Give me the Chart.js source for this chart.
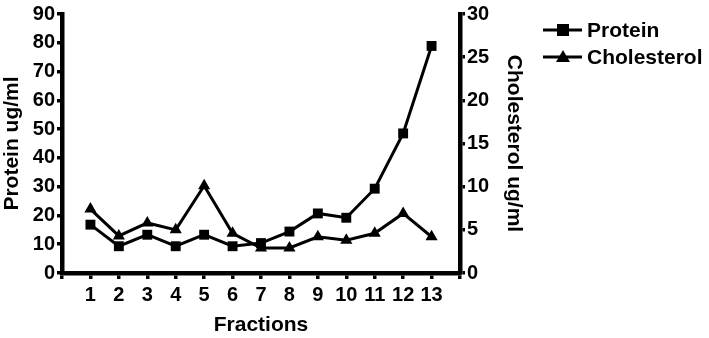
<!DOCTYPE html>
<html>
<head>
<meta charset="utf-8">
<script src="https://cdn.jsdelivr.net/npm/chart.js@4"></script>
<style>
  html, body { margin: 0; padding: 0; background: #fff; }
  #wrap { width: 709px; height: 338px; }
</style>
</head>
<body>
<div id="wrap"><canvas id="myChart" width="709" height="338"></canvas></div>
<script>
const fractions = [1, 2, 3, 4, 5, 6, 7, 8, 9, 10, 11, 12, 13];
const protein = [16.8, 9.3, 13.3, 9.3, 13.3, 9.3, 10.4, 14.4, 20.7, 19.2, 29.3, 48.5, 78.9];
const cholesterol = [7.4, 4.3, 5.8, 5.0, 10.1, 4.6, 2.9, 2.9, 4.2, 3.8, 4.6, 6.9, 4.2];
const seriesNames = ['Protein', 'Cholesterol'];

const FONT = "'Liberation Sans', Arial, sans-serif";

// legend drawn by hand: line with the marker in the middle
const legendPlugin = {
  id: 'sideLegend',
  afterDraw(chart) {
    const ctx = chart.ctx;
    const rows = [{ y: 30, style: 'rect' }, { y: 57, style: 'triangle' }];
    ctx.save();
    rows.forEach((r, i) => {
      ctx.strokeStyle = '#000';
      ctx.lineWidth = 3;
      ctx.beginPath();
      ctx.moveTo(543, r.y);
      ctx.lineTo(582, r.y);
      ctx.stroke();
      ctx.fillStyle = '#000';
      if (r.style === 'rect') {
        ctx.fillRect(557, r.y - 6, 12, 12);
      } else {
        ctx.beginPath();
        ctx.moveTo(563, r.y - 7);
        ctx.lineTo(570, r.y + 5);
        ctx.lineTo(556, r.y + 5);
        ctx.closePath();
        ctx.fill();
      }
      ctx.font = 'bold 21px ' + FONT;
      ctx.textBaseline = 'middle';
      ctx.fillText(seriesNames[i], 587, r.y + 1);
    });
    ctx.restore();
  }
};

const ctx = document.getElementById('myChart').getContext('2d');

new Chart(ctx, {
  type: 'line',
  data: {
    datasets: [{
      label: seriesNames[0],
      data: fractions.map((f, i) => ({ x: f, y: protein[i] })),
      yAxisID: 'y',
      borderColor: '#000',
      backgroundColor: '#000',
      borderWidth: 3,
      pointStyle: 'rect',
      pointRadius: 7,
      pointBorderWidth: 0,
      tension: 0
    }, {
      label: seriesNames[1],
      data: fractions.map((f, i) => ({ x: f, y: cholesterol[i] })),
      yAxisID: 'y1',
      borderColor: '#000',
      backgroundColor: '#000',
      borderWidth: 3,
      pointStyle: 'triangle',
      pointRadius: 7,
      pointBorderWidth: 0,
      tension: 0
    }]
  },
  options: {
    responsive: false,
    animation: false,
    layout: { padding: { top: 11, right: 183, bottom: 0, left: 0 } },
    plugins: { legend: { display: false }, tooltip: { enabled: false } },
    scales: {
      x: {
        type: 'linear',
        min: 0,
        max: 14,
        afterFit: s => { s.height = 65; },
        ticks: {
          stepSize: 1,
          autoSkip: false,
          maxRotation: 0,
          color: '#000',
          padding: 4,
          font: { family: FONT, size: 20, weight: 'bold' },
          callback: v => (v === 0 || v === 14) ? '' : v
        },
        grid: { display: true, drawOnChartArea: false, drawTicks: true, tickLength: 6, color: '#000', lineWidth: 3.5 },
        border: { color: '#000', width: 4.5 },
        title: {
          display: true,
          text: 'Fractions',
          color: '#000',
          padding: { top: 5, bottom: 0 },
          font: { family: FONT, size: 21, weight: 'bold' }
        }
      },
      y: {
        position: 'left',
        min: 0,
        max: 90,
        afterFit: s => { s.width = 62; },
        ticks: {
          stepSize: 10,
          color: '#000',
          padding: 2,
          font: { family: FONT, size: 20, weight: 'bold' }
        },
        grid: { display: true, drawOnChartArea: false, drawTicks: true, tickLength: 5, color: '#000', lineWidth: 3.5 },
        border: { color: '#000', width: 4.5 },
        title: {
          display: true,
          text: 'Protein ug/ml',
          color: '#000',
          padding: { top: 0, bottom: 0 },
          font: { family: FONT, size: 21, weight: 'bold' }
        }
      },
      y1: {
        position: 'right',
        min: 0,
        max: 30,
        afterFit: s => { s.width = 66; },
        ticks: {
          stepSize: 5,
          color: '#000',
          padding: 2,
          font: { family: FONT, size: 20, weight: 'bold' }
        },
        grid: { display: true, drawOnChartArea: false, drawTicks: true, tickLength: 5, color: '#000', lineWidth: 3.5 },
        border: { color: '#000', width: 4.5 },
        title: {
          display: true,
          text: 'Cholesterol ug/ml',
          color: '#000',
          padding: { top: 0, bottom: 0 },
          font: { family: FONT, size: 21, weight: 'bold' }
        }
      }
    }
  },
  plugins: [legendPlugin]
});
</script>
</body>
</html>
